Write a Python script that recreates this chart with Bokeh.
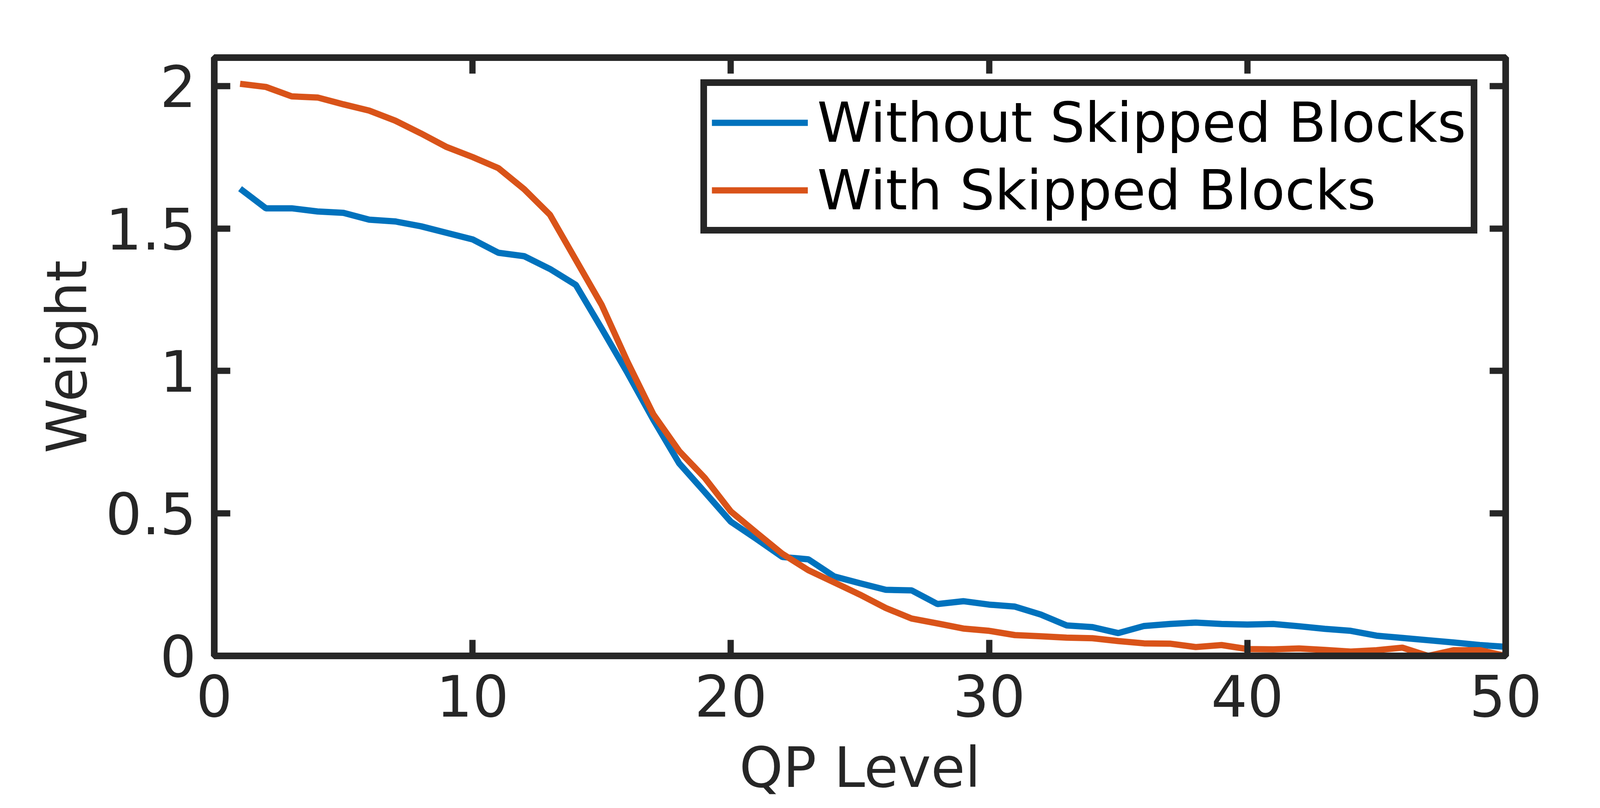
from bokeh.plotting import figure
from bokeh.models import (Range1d, LinearAxis, FixedTicker, NumeralTickFormatter,
                          CustomJSTickFormatter, Legend, LegendItem)
from bokeh.embed import file_html
from bokeh.resources import INLINE

qp_level = list(range(1, 51))
without_skipped = [1.640, 1.571, 1.571, 1.560, 1.555, 1.531, 1.525, 1.508, 1.485, 1.462,
                   1.415, 1.403, 1.358, 1.302, 1.149, 0.993, 0.829, 0.676, 0.574, 0.471,
                   0.410, 0.347, 0.339, 0.279, 0.255, 0.232, 0.230, 0.182, 0.192, 0.180,
                   0.173, 0.145, 0.107, 0.101, 0.080, 0.105, 0.112, 0.117, 0.112, 0.110,
                   0.112, 0.104, 0.095, 0.088, 0.071, 0.063, 0.055, 0.047, 0.038, 0.032]
with_skipped = [2.008, 1.997, 1.964, 1.960, 1.936, 1.914, 1.879, 1.834, 1.786, 1.751,
                1.712, 1.638, 1.548, 1.390, 1.232, 1.032, 0.848, 0.719, 0.624, 0.507,
                0.432, 0.358, 0.301, 0.258, 0.215, 0.168, 0.131, 0.114, 0.096, 0.088,
                0.073, 0.069, 0.064, 0.062, 0.052, 0.044, 0.043, 0.031, 0.038, 0.024,
                0.023, 0.026, 0.021, 0.015, 0.020, 0.029, 0.000, 0.020, 0.020, 0.000]
series_names = ["Without Skipped Blocks", "With Skipped Blocks"]
x_ticks = [0, 10, 20, 30, 40, 50]
y_ticks = [0, 0.5, 1, 1.5, 2]
x_label = "QP Level"
y_label = "Weight"

AX = "#262626"
FONT = "DejaVu Sans"
W, H = 4250, 2050

p = figure(width=W, height=H, output_backend="svg", toolbar_location=None,
           x_range=Range1d(0, 50), y_range=Range1d(0, 2.1),
           min_border_left=548, min_border_right=396,
           min_border_top=147, min_border_bottom=368)
p.background_fill_color = "white"
p.border_fill_color = "white"
p.grid.visible = False
p.outline_line_color = AX
p.outline_line_width = 17

r1 = p.line(qp_level, without_skipped, line_color="#0072BD", line_width=16)
r2 = p.line(qp_level, with_skipped, line_color="#D95319", line_width=16)

def style_axis(ax):
    ax.axis_line_color = AX
    ax.axis_line_width = 17
    ax.major_tick_line_color = AX
    ax.major_tick_line_width = 16
    ax.major_tick_in = 41
    ax.major_tick_out = 0
    ax.minor_tick_line_color = None
    ax.major_label_text_color = AX
    ax.major_label_text_font = FONT
    ax.major_label_text_font_size = "146px"
    ax.axis_label_text_color = AX
    ax.axis_label_text_font = FONT
    ax.axis_label_text_font_size = "142px"
    ax.axis_label_text_font_style = "normal"

xa = p.xaxis[0]
ya = p.yaxis[0]
xa.ticker = FixedTicker(ticks=x_ticks)
ya.ticker = FixedTicker(ticks=y_ticks)
ya.formatter = NumeralTickFormatter(format="0.[0]")
style_axis(xa)
style_axis(ya)
xa.axis_label = x_label
ya.axis_label = y_label
xa.major_label_standoff = 48
ya.major_label_standoff = 46
xa.axis_label_standoff = 45
ya.axis_label_standoff = 13

blank = CustomJSTickFormatter(code="return '';")
top = LinearAxis(ticker=FixedTicker(ticks=x_ticks), formatter=blank)
right = LinearAxis(ticker=FixedTicker(ticks=y_ticks), formatter=blank)
style_axis(top)
style_axis(right)
top.major_label_text_font_size = "1px"
right.major_label_text_font_size = "1px"
p.add_layout(top, "above")
p.add_layout(right, "right")

legend = Legend(items=[LegendItem(label=series_names[0], renderers=[r1]),
                       LegendItem(label=series_names[1], renderers=[r2])],
                location=(1245, 1081))
legend.border_line_color = AX
legend.border_line_width = 17
legend.border_line_alpha = 1
legend.background_fill_color = "white"
legend.background_fill_alpha = 1
legend.label_text_font = FONT
legend.label_text_font_size = "141px"
legend.label_text_color = "black"
legend.padding = 12
legend.margin = 0
legend.spacing = 9
legend.glyph_width = 246
legend.glyph_height = 148
legend.label_height = 148
legend.label_standoff = 24
p.add_layout(legend)

open("out.html", "w").write(file_html(p, INLINE))
